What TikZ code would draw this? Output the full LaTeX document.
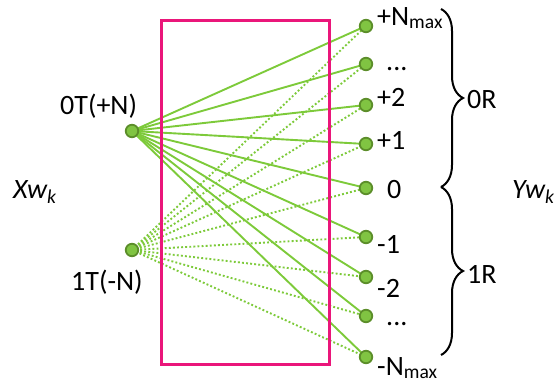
\documentclass[tikz,border=0pt]{standalone}
\usepackage{fontspec}
\setmainfont{Carlito}
\usetikzlibrary{decorations.pathreplacing,backgrounds}
\definecolor{boxpink}{RGB}{234,22,122}
\definecolor{linegreen}{RGB}{125,202,58}
\definecolor{dotfill}{RGB}{128,196,66}
\definecolor{dotborder}{RGB}{92,142,42}
\begin{document}
\begin{tikzpicture}[x=1pt,y=-1pt,
  dotnode/.style={circle,fill=dotfill,draw=dotborder,line width=1.8pt,minimum size=12.5pt,inner sep=0pt},
  lbl/.style={anchor=base west,inner sep=0pt,font=\fontsize{28}{33}\selectfont},
  solidlink/.style={draw=linegreen,line width=1.9pt},
  dotlink/.style={draw=linegreen,line width=1.9pt,dash pattern=on 1.9pt off 2.2pt},
  bracestyle/.style={draw=black,line width=2pt,decorate,decoration={brace,amplitude=22pt}}]
\useasboundingbox (0,0) rectangle (560,389);
% box
\node[draw=boxpink,line width=2.6pt,minimum width=168pt,minimum height=344pt,inner sep=0pt,anchor=north west] (box) at (160,19) {};
% left nodes
\node[dotnode] (t0) at (132,131) {};
\node[dotnode] (t1) at (132,250) {};
% right nodes
\foreach \i/\yy in {1/26,2/64,3/105,4/144,5/188,6/237,7/277,8/316,9/357}{
  \node[dotnode] (r\i) at (366,\yy) {};
}
\begin{scope}[on background layer]
\foreach \i in {1,...,9}{
  \draw[dotlink] (t1.center) -- (r\i.center);
}
\foreach \i in {1,...,9}{
  \draw[solidlink] (t0.center) -- (r\i.center);
}
\end{scope}
% right labels
\node[lbl] (l1) at (377,25) {+N\textsubscript{max}};
\node[lbl] (l2) at (386,70) {...};
\node[lbl] (l3) at (377,106) {+2};
\node[lbl] (l4) at (377,149) {+1};
\node[lbl] (l5) at (387,198) {0};
\node[lbl] (l6) at (377,253) {-1};
\node[lbl] (l7) at (377,297) {-2};
\node[lbl] (l8) at (386,325) {...};
\node[lbl] (l9) at (377,375) {-N\textsubscript{max}};
% left labels
\node[lbl] (lt0) at (60,114) {0T(+N)};
\node[lbl] (lt1) at (71,290) {1T(-N)};
\node[lbl] (xw) at (13,198) {\itshape Xw\textsubscript{k}};
\node[lbl] (yw) at (512,198) {\itshape Yw\textsubscript{k}};
% braces
\coordinate (b0) at (441,9);
\coordinate (b1) at (441,187);
\coordinate (b2) at (441,355);
\draw[bracestyle] (b0) -- (b1);
\draw[bracestyle] (b1) -- (b2);
\node[lbl] (or) at (467,108) {0R};
\node[lbl] (ir) at (467,283) {1R};
\end{tikzpicture}
\end{document}
